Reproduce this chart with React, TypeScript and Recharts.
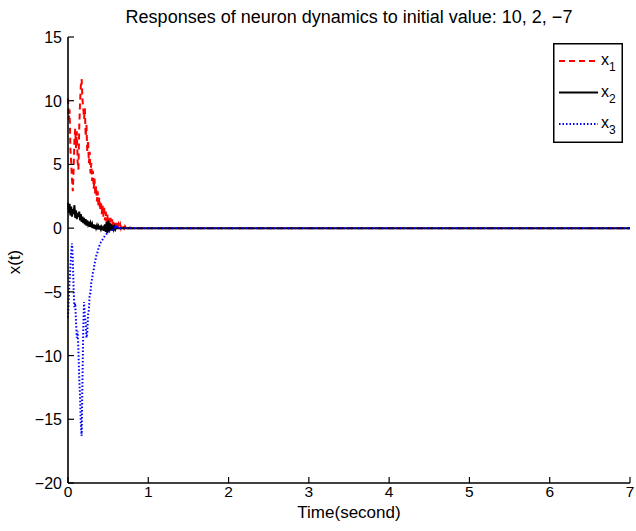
import React from 'react';
import { LineChart, Line, XAxis, YAxis, Legend } from 'recharts';

// time samples (s): dense where the transient happens, sparse afterwards
const time = [
  0.0, 0.01, 0.02, 0.03, 0.04, 0.05, 0.06, 0.07, 0.08, 0.09,
  0.1, 0.11, 0.12, 0.13, 0.14, 0.15, 0.16, 0.17, 0.18, 0.19,
  0.2, 0.21, 0.22, 0.23, 0.24, 0.25, 0.26, 0.27, 0.28, 0.29,
  0.3, 0.31, 0.32, 0.33, 0.34, 0.35, 0.36, 0.37, 0.38, 0.39,
  0.4, 0.41, 0.42, 0.43, 0.44, 0.45, 0.46, 0.47, 0.48, 0.49,
  0.5, 0.51, 0.52, 0.53, 0.54, 0.55, 0.56, 0.57, 0.58, 0.59,
  0.6, 0.61, 0.62, 0.63, 0.64, 0.65, 0.66, 0.67, 0.68, 0.69,
  0.7, 0.71, 0.72, 0.73, 0.74, 0.75, 0.76, 0.77, 0.78, 0.79,
  0.8, 0.81, 0.82, 0.83, 0.84, 0.85, 0.86, 0.87, 0.88, 0.89, 0.9,
  1, 2, 3, 4, 5, 6, 7,
];

const x1 = [
  10.2, 8.5, 9.3, 6.2, 5.1, 3.8, 2.9, 4.6, 6.9, 7.8,
  6.3, 7.6, 5.2, 4.6, 7.9, 9.8, 11.2, 11.7, 10.1, 9.4,
  8.6, 9.4, 7.2, 8.1, 6.0, 6.9, 5.1, 6.0, 4.3, 5.1,
  3.7, 4.5, 3.1, 3.9, 2.6, 3.3, 2.1, 2.9, 1.7, 2.4,
  1.4, 2.1, 1.1, 1.8, 0.9, 1.6, 0.6, 1.3, 0.5, 1.1,
  0.3, 0.9, 0.2, 0.8, 0.1, 0.7, 0.0, 0.6, 0.1, 0.5,
  0.2, 0.4, 0.0, 0.3, 0.1, 0.3, 0.0, 0.2, 0.1, 0.2,
  0.0, 0.15, 0.05, 0.1, 0.0, 0.08, 0.0, 0.05, 0.0, 0.03,
  0, 0, 0, 0, 0, 0, 0, 0, 0, 0, 0,
  0, 0, 0, 0, 0, 0, 0,
];

const x2 = [
  2.0, 1.2, 1.9, 1.0, 1.7, 0.9, 1.5, 1.1, 1.8, 0.8,
  1.4, 0.7, 1.2, 0.9, 1.3, 0.6, 1.1, 0.5, 0.9, 0.4,
  0.8, 0.3, 0.7, 0.2, 0.6, 0.3, 0.5, 0.1, 0.4, 0.2,
  0.35, 0.0, 0.3, -0.05, 0.25, 0.0, 0.2, -0.1, 0.15, 0.0,
  0.1, -0.1, 0.1, -0.05, 0.05, -0.2, 0.3, -0.3, 0.5, -0.4,
  0.6, -0.3, 0.4, -0.2, 0.3, -0.2, 0.2, -0.1, 0.1, -0.1,
  0.05, 0, 0, 0, 0, 0, 0, 0, 0, 0,
  0, 0, 0, 0, 0, 0, 0, 0, 0, 0,
  0, 0, 0, 0, 0, 0, 0, 0, 0, 0, 0,
  0, 0, 0, 0, 0, 0, 0,
];

const x3 = [
  -7.0, -5.4, -4.1, -3.0, -1.9, -1.2, -2.5, -4.8, -6.2, -5.9,
  -7.4, -8.6, -8.1, -9.6, -11.8, -13.2, -15.4, -16.3, -12.0, -8.0,
  -5.8, -6.9, -7.4, -8.6, -8.2, -6.8, -6.4, -5.2, -5.1, -4.2,
  -4.0, -3.5, -3.3, -2.8, -2.6, -2.2, -2.1, -1.8, -1.6, -1.4,
  -1.3, -1.1, -1.0, -0.9, -0.8, -0.7, -0.6, -0.55, -0.45, -0.4,
  -0.35, -0.3, -0.25, -0.2, -0.15, -0.12, -0.1, -0.05, 0.05, -0.05,
  0.08, -0.06, 0.05, -0.03, 0.04, 0, 0, 0, 0, 0,
  0, 0, 0, 0, 0, 0, 0, 0, 0, 0,
  0, 0, 0, 0, 0, 0, 0, 0, 0, 0, 0,
  0, 0, 0, 0, 0, 0, 0,
];

const xTicks = [0, 1, 2, 3, 4, 5, 6, 7];
const yTicks = [-20, -15, -10, -5, 0, 5, 10, 15];

const data = time.map((t, i) => ({ t, x1: x1[i], x2: x2[i], x3: x3[i] }));

const W = 636;
const H = 531;
const PLOT_LEFT = 68;
const PLOT_TOP = 37;
const PLOT_RIGHT = 630;
const X_AXIS_H = 48;
const TICK = 6;
const FONT = '"Liberation Sans", Arial, Helvetica, sans-serif';

const seriesStyle: Record<string, { color: string; dash?: string }> = {
  x1: { color: '#ff0000', dash: '6 4' },
  x2: { color: '#000000' },
  x3: { color: '#0000ff', dash: '1.5 2' },
};

const fmt = (v: number) => (v < 0 ? `\u2212${Math.abs(v)}` : `${v}`);

// MATLAB-style ticks: pointing into the plot box
const BottomTick = (props: any) => {
  const { x, y, payload } = props;
  return (
    <g>
      <line x1={x} y1={y} x2={x} y2={y - TICK} stroke="#000" strokeWidth={1.2} />
      <text x={x} y={y + 14} textAnchor="middle" fontSize={15.5} fill="#000" fontFamily={FONT}>
        {fmt(payload.value)}
      </text>
    </g>
  );
};

const TopTick = (props: any) => {
  const { x, y } = props;
  return <line x1={x} y1={y} x2={x} y2={y + TICK} stroke="#000" strokeWidth={1.2} />;
};

const LeftTick = (props: any) => {
  const { x, y, payload } = props;
  return (
    <g>
      <line x1={x} y1={y} x2={x + TICK} y2={y} stroke="#000" strokeWidth={1.2} />
      <text x={x - 6} y={y + 6} textAnchor="end" fontSize={16} fill="#000" fontFamily={FONT}>
        {fmt(payload.value)}
      </text>
    </g>
  );
};

const RightTick = (props: any) => {
  const { x, y } = props;
  return <line x1={x} y1={y} x2={x - TICK} y2={y} stroke="#000" strokeWidth={1.2} />;
};

const renderLegend = (props: any) => {
  const items = props.payload || [];
  return (
    <svg width={70} height={100} style={{ display: 'block' }}>
      <rect x={0.75} y={0.75} width={68.5} height={98.5} fill="#fff" stroke="#000" strokeWidth={1.5} />
      {items.map((entry: any, i: number) => {
        const key = String(entry.dataKey ?? entry.value);
        const st = seriesStyle[key] || { color: entry.color };
        const cy = 18 + i * 31.5;
        return (
          <g key={key}>
            <line
              x1={6}
              x2={45}
              y1={cy}
              y2={cy}
              stroke={st.color}
              strokeWidth={2}
              strokeDasharray={st.dash}
            />
            <text x={48} y={cy + 4} fontSize={16} fill="#000" fontFamily={FONT}>
              x
              <tspan fontSize={12} dy={6}>
                {key.slice(1)}
              </tspan>
            </text>
          </g>
        );
      })}
    </svg>
  );
};

export default function App() {
  const midX = (PLOT_LEFT + PLOT_RIGHT) / 2;
  return (
    <div style={{ position: 'absolute', left: 0, top: 0, width: W, height: H, background: '#fff', fontFamily: FONT }}>
      <LineChart
        width={W}
        height={H}
        data={data}
        margin={{ top: PLOT_TOP, right: W - PLOT_RIGHT, bottom: 0, left: 0 }}
      >
        <XAxis
          dataKey="t"
          type="number"
          domain={[0, 7]}
          ticks={xTicks}
          height={X_AXIS_H}
          tickSize={0}
          tickMargin={0}
          tickLine={false}
          axisLine={{ stroke: '#000', strokeWidth: 1.6 }}
          tick={<BottomTick />}
          interval={0}
        />
        <XAxis
          xAxisId="top"
          orientation="top"
          dataKey="t"
          type="number"
          domain={[0, 7]}
          ticks={xTicks}
          height={0}
          tickSize={0}
          tickMargin={0}
          tickLine={false}
          axisLine={{ stroke: '#000', strokeWidth: 1.6 }}
          tick={<TopTick />}
          interval={0}
        />
        <YAxis
          type="number"
          domain={[-20, 15]}
          ticks={yTicks}
          width={PLOT_LEFT}
          tickSize={0}
          tickMargin={0}
          tickLine={false}
          axisLine={{ stroke: '#000', strokeWidth: 1.6 }}
          tick={<LeftTick />}
          interval={0}
        />
        <YAxis
          yAxisId="right"
          orientation="right"
          type="number"
          domain={[-20, 15]}
          ticks={yTicks}
          width={0}
          tickSize={0}
          tickMargin={0}
          tickLine={false}
          axisLine={{ stroke: '#000', strokeWidth: 1.6 }}
          tick={<RightTick />}
          interval={0}
        />
        <Legend
          layout="vertical"
          align="center"
          verticalAlign="middle"
          content={renderLegend}
          wrapperStyle={{ left: 553, top: 43, width: 70, height: 100 }}
        />
        <Line
          type="linear"
          dataKey="x1"
          name="x1"
          stroke={seriesStyle.x1.color}
          strokeDasharray={seriesStyle.x1.dash}
          strokeWidth={2}
          dot={false}
          isAnimationActive={false}
        />
        <Line
          type="linear"
          dataKey="x2"
          name="x2"
          stroke={seriesStyle.x2.color}
          strokeWidth={2}
          dot={false}
          isAnimationActive={false}
        />
        <Line
          type="linear"
          dataKey="x3"
          name="x3"
          stroke={seriesStyle.x3.color}
          strokeDasharray={seriesStyle.x3.dash}
          strokeWidth={2}
          dot={false}
          isAnimationActive={false}
        />
      </LineChart>
      <svg
        width={W}
        height={H}
        style={{ position: 'absolute', left: 0, top: 0, pointerEvents: 'none' }}
      >
        <text x={midX} y={23} textAnchor="middle" fontSize={18} fill="#000" fontFamily={FONT}>
          Responses of neuron dynamics to initial value: 10, 2, {'\u2212'}7
        </text>
        <text x={midX} y={518} textAnchor="middle" fontSize={17} fill="#000" fontFamily={FONT}>
          Time(second)
        </text>
        <text
          transform="translate(20,262) rotate(-90)"
          textAnchor="middle"
          fontSize={17}
          fill="#000"
          fontFamily={FONT}
        >
          x(t)
        </text>
      </svg>
    </div>
  );
}
